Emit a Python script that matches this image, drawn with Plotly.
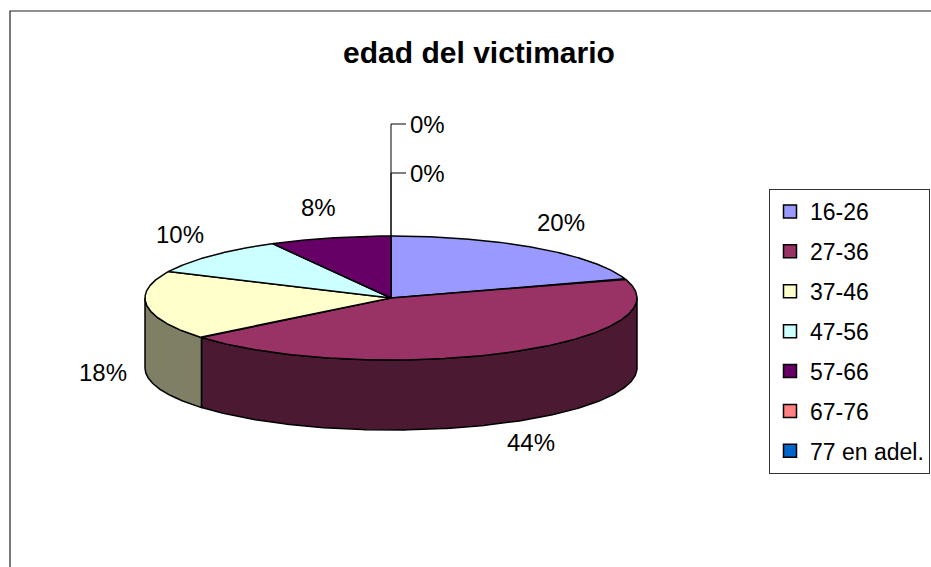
import numpy as np
import plotly.graph_objects as go

# ---- data ----
categories = ["16-26", "27-36", "37-46", "47-56", "57-66", "67-76", "77 en adel."]
counts = [10, 22, 9, 5, 4, 0, 0]
colors = ["#9999FF", "#993366", "#FFFFCC", "#CCFFFF", "#660066", "#FF8080", "#0066CC"]
title_text = "edad del victimario"

# ---- layout constants (pixel space) ----
W, H = 931, 567
CX, CY, RX, RY, DEPTH = 391, 298, 246, 62, 70
FONT = "Liberation Sans, Arial, sans-serif"
LABEL_SIZE = 24
LEGEND_SIZE = 23


def shade(hexcol, f=0.5):
    h = hexcol.lstrip("#")
    r, g, b = (int(h[i:i + 2], 16) for i in (0, 2, 4))
    return "#%02x%02x%02x" % (int(r * f), int(g * f), int(b * f))


def ell(tdeg, dy=0.0, rx=RX, ry=RY):
    t = np.radians(tdeg)
    return CX + rx * np.sin(t), CY - ry * np.cos(t) + dy


vals = np.array(counts, dtype=float)
frac = vals / vals.sum()
ends = np.cumsum(frac) * 360
starts = ends - frac * 360

fig = go.Figure()

# side walls (visible front half only)
for i in range(len(categories)):
    if frac[i] <= 0:
        continue
    lo, hi = max(starts[i], 90), min(ends[i], 270)
    if lo >= hi:
        continue
    ts = np.linspace(lo, hi, 200)
    xt, yt = ell(ts)
    xb, yb = ell(ts[::-1], DEPTH)
    fig.add_trace(go.Scatter(
        x=np.concatenate([xt, xb, xt[:1]]), y=np.concatenate([yt, yb, yt[:1]]),
        mode="lines", fill="toself", fillcolor=shade(colors[i]),
        line=dict(color="black", width=1.5), showlegend=False, hoverinfo="skip"))

# top faces
for i in range(len(categories)):
    if frac[i] <= 0:
        continue
    ts = np.linspace(starts[i], ends[i], 300)
    xa, ya = ell(ts)
    fig.add_trace(go.Scatter(
        x=np.concatenate([[CX], xa, [CX]]), y=np.concatenate([[CY], ya, [CY]]),
        mode="lines", fill="toself", fillcolor=colors[i],
        line=dict(color="black", width=1.5), showlegend=False, hoverinfo="skip"))

# legend entries
for cat, col in zip(categories, colors):
    fig.add_trace(go.Scatter(
        x=[None], y=[None], mode="markers", name=cat, legendgroup=cat,
        marker=dict(symbol="square", size=13, color=col,
                    line=dict(color="black", width=1.5))))

# labels
annotations = []
shapes = []
zero_idx = 0
top_x, top_y = ell(0)
for i in range(len(categories)):
    pct = "%d%%" % round(frac[i] * 100)
    mid = (starts[i] + ends[i]) / 2
    if frac[i] > 0:
        lx, ly = ell(mid, 0, RX + 44, RY + 31)
        if np.cos(np.radians(mid)) < 0:
            ly += DEPTH * 0.9
        annotations.append(dict(x=lx, y=ly, text=pct, showarrow=False,
                                xanchor="center", yanchor="middle",
                                font=dict(size=LABEL_SIZE, color="black", family=FONT)))
    else:
        ly = top_y - 63 - 49 * zero_idx
        zero_idx += 1
        shapes.append(dict(type="line", x0=top_x, x1=top_x, y0=top_y, y1=ly,
                           xref="x", yref="y", line=dict(color="black", width=1)))
        shapes.append(dict(type="line", x0=top_x, x1=top_x + 15, y0=ly, y1=ly,
                           xref="x", yref="y", line=dict(color="black", width=1)))
        annotations.append(dict(x=top_x + 17, y=ly, text=pct, showarrow=False,
                                xanchor="left", yanchor="middle",
                                font=dict(size=LABEL_SIZE, color="black", family=FONT)))

# outer chart border
shapes.append(dict(type="rect", xref="x", yref="y", x0=10, y0=11, x1=W + 20, y1=H + 20,
                   line=dict(color="#222222", width=1.2), layer="below"))

fig.update_layout(
    width=W, height=H,
    margin=dict(l=0, r=0, t=0, b=0, autoexpand=False),
    paper_bgcolor="white", plot_bgcolor="white",
    title=dict(text=title_text, x=479 / W, y=1 - 52 / H, xanchor="center", yanchor="middle",
               font=dict(size=30, color="black", family=FONT, weight="bold")),
    xaxis=dict(range=[0, W], visible=False, fixedrange=True),
    yaxis=dict(range=[H, 0], visible=False, fixedrange=True),
    legend=dict(x=769 / W, y=1 - 189 / H, xanchor="left", yanchor="top",
                bordercolor="#333333", borderwidth=1, bgcolor="white",
                font=dict(size=LEGEND_SIZE, color="black", family=FONT),
                tracegroupgap=7, itemwidth=30),
    annotations=annotations, shapes=shapes,
    showlegend=True,
)

fig.write_html("out.html", config={"displayModeBar": False},
               post_script="document.body.style.margin='0px';")
